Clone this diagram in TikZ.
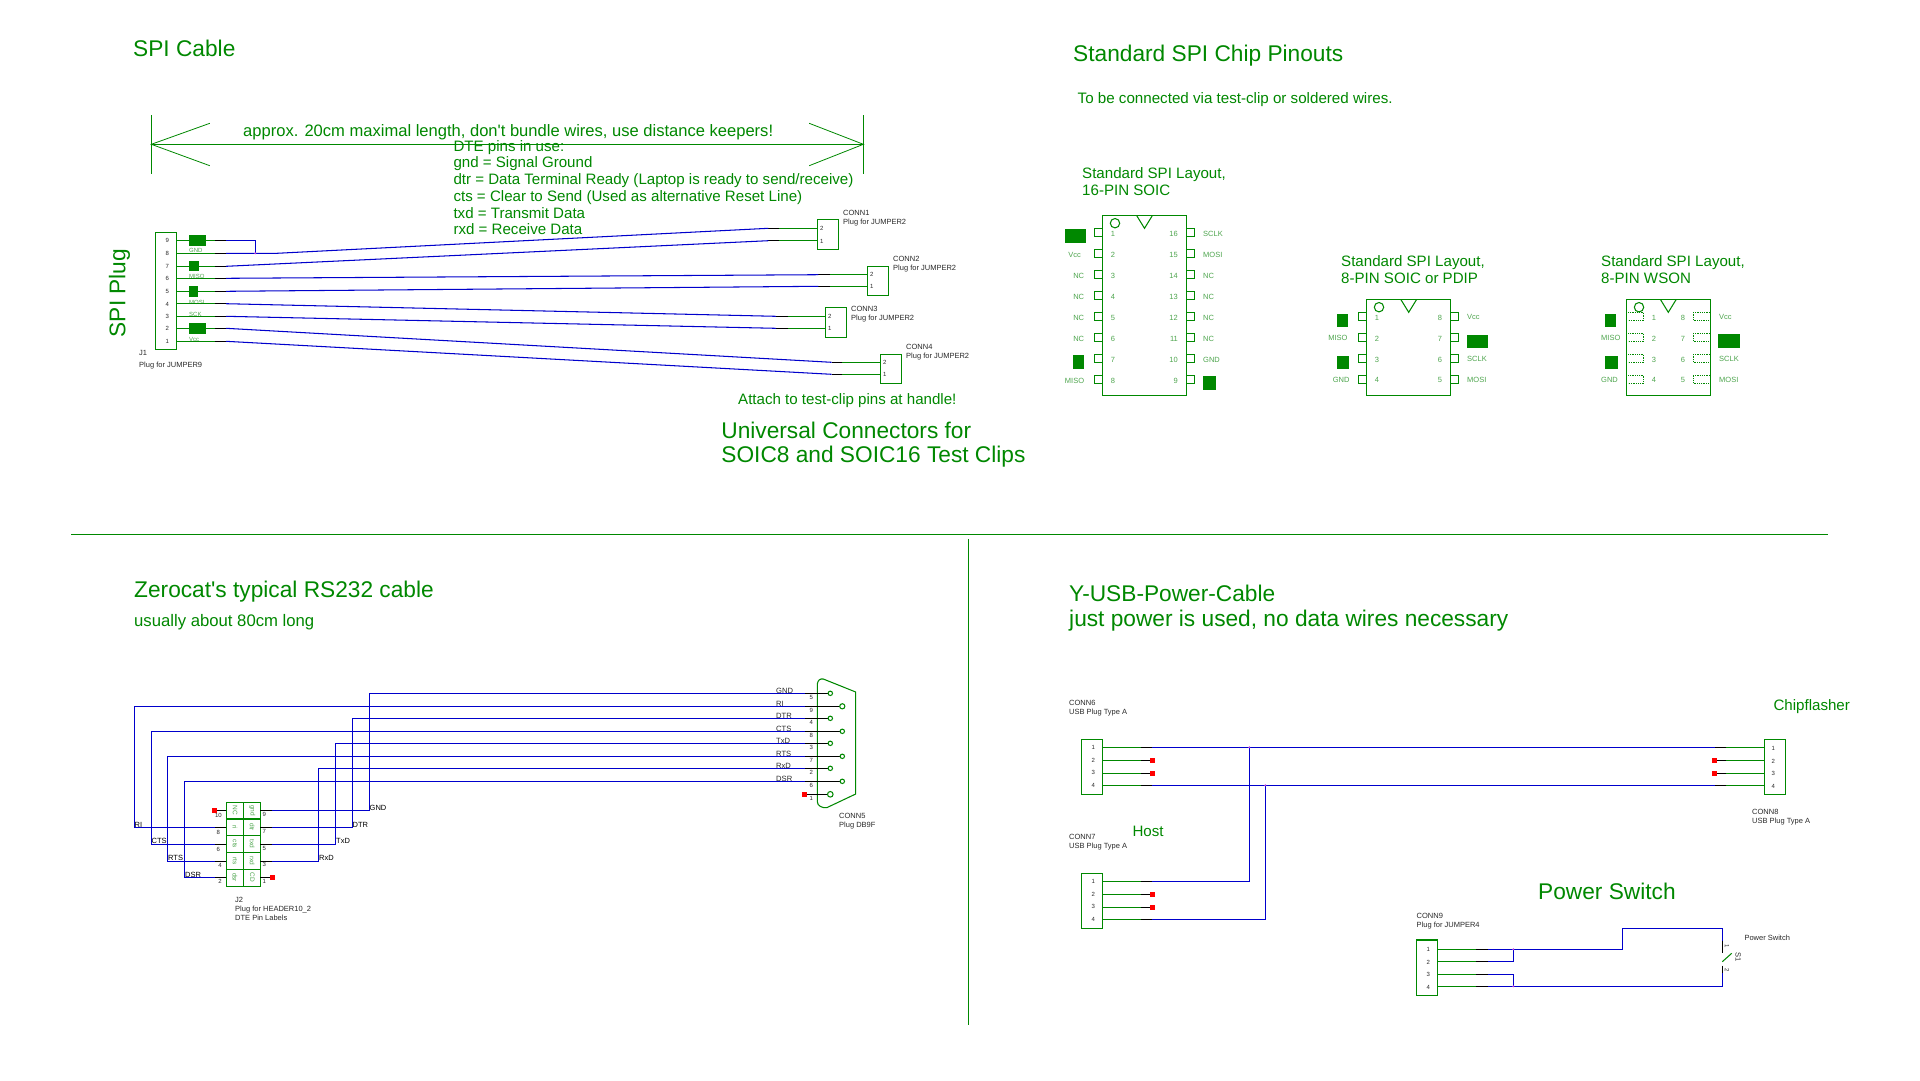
\documentclass[tikz,border=0pt]{standalone}
\usepackage{fontspec}
\setmainfont{Liberation Sans}
\newfontfamily\plainf{Liberation Sans}
\definecolor{gn}{HTML}{008800}
\definecolor{lgn}{HTML}{4FA64F}
\definecolor{bl}{HTML}{0000CC}
\definecolor{dk}{HTML}{2A2A2A}
\definecolor{jn}{HTML}{C040E0}
\definecolor{rd}{HTML}{FF0000}
\tikzset{
 gwire/.style={draw=gn,line width=1.05pt},
 bwire/.style={draw=bl,line width=1.05pt},
 kwire/.style={draw=black,line width=1.05pt},
 thin green/.style={draw=gn,line width=.8pt},
 dots/.style={draw=gn,line width=.8pt,dash pattern=on .9pt off .9pt},
}
\newcounter{nn}
\newcommand\TL[5]{\stepcounter{nn}\node[anchor=base west,inner sep=0pt,text=#4,font=\fontsize{#3}{#3}\selectfont,yshift=-#3*0.36pt] (t\thenn) at (#1,#2) {#5};}
\newcommand\TC[5]{\stepcounter{nn}\node[anchor=base,inner sep=0pt,text=#4,font=\fontsize{#3}{#3}\selectfont,yshift=-#3*0.36pt] (t\thenn) at (#1,#2) {#5};}
\newcommand\TR[5]{\stepcounter{nn}\node[anchor=base east,inner sep=0pt,text=#4,font=\fontsize{#3}{#3}\selectfont,yshift=-#3*0.36pt] (t\thenn) at (#1,#2) {#5};}
\newcommand\TRot[6]{\stepcounter{nn}\node[anchor=center,inner sep=0pt,text=#4,rotate=#6,font=\fontsize{#3}{#3}\selectfont] (t\thenn) at (#1,#2) {#5};}
\newcommand\Pin[5]{\coordinate (#1b) at (#2,#5);\coordinate (#1g) at (#3,#5);\coordinate (#1) at (#4,#5);\draw[gwire] (#1b)--(#1g);\draw[kwire] (#1g)--(#1);}
\newcommand\Red[2]{\fill[rd] (#1-2.5,#2-2.5) rectangle (#1+2.5,#2+2.5);}
\newcommand\Cov[4]{\fill[gn] (#1,#2) rectangle (#3,#4);}
\newcommand\Jn[1]{\fill[jn] (#1) circle (1.1);}
\newcommand\Chiprect[6]{\draw[gwire] (#1,#3) rectangle (#2,#4);\draw[gwire] (#5,#3+7.9) circle (4.7);\draw[gwire] (#6-8,#3) -- (#6,#3+13) -- (#6+8,#3);}
\newcommand\LP[2]{\draw[gwire] (#1,#2-4.1) rectangle (#1+8,#2+4.1);}
\begin{document}
\begin{tikzpicture}[x=1pt,y=-1pt]
\useasboundingbox (0,0) rectangle (1920,1080);
\fill[white] (0,0) rectangle (1920,1080);

% ---------- separators
\draw[gwire] (71,534.3) -- (1828,534.3);
\draw[gwire] (968.6,538.8) -- (968.6,1025);

% ---------- SPI cable: text
\TL{133}{48}{22.7}{gn}{SPI Cable}
\TRot{119.5}{293}{22.7}{gn}{SPI Plug}{90}
\draw[thin green] (151.3,115) -- (151.3,174);
\draw[thin green] (863.4,115) -- (863.4,174);
\draw[thin green] (151.3,144.3) -- (863.4,144.3);
\draw[thin green] (209.8,123.3) -- (151.3,144.3) -- (209.8,165.7);
\draw[thin green] (809.2,123.3) -- (863.4,144.3) -- (809.2,165.7);
\TL{243}{131}{16.55}{gn}{\plainf approx. 20cm maximal length, don't bundle wires, use distance keepers!}
\TL{453.3}{145.7}{15.1}{gn}{DTE pins in use:}
\TL{453.3}{162.3}{15.1}{gn}{gnd = Signal Ground}
\TL{453.3}{179}{15.1}{gn}{dtr = Data Terminal Ready (Laptop is ready to send/receive)}
\TL{453.3}{195.7}{15.1}{gn}{cts = Clear to Send (Used as alternative Reset Line)}
\TL{453.3}{213}{15.1}{gn}{txd = Transmit Data}
\TL{453.3}{229}{15.1}{gn}{rxd = Receive Data}

% J1
\draw[gwire] (155.3,232.3) rectangle (176.7,349.3);
\TL{189}{250.7}{6}{lgn}{GND}
\TL{189}{276.7}{6}{lgn}{MISO}
\TL{189}{302}{6}{lgn}{MOSI}
\TL{189}{314}{6}{lgn}{SCK}
\TL{189}{339}{6}{lgn}{Vcc}
\foreach \n/\y in {9/240.3,8/253.3,7/266.3,6/278.3,5/291.3,4/303.7,3/316.3,2/328.3,1/341.3}{
  \Pin{J\n}{176.7}{215}{226}{\y}
  \TC{167.3}{\y+.5}{6}{dk}{\n}
}
\Cov{189}{235}{205.7}{246}
\Cov{189}{260.7}{199}{271.3}
\Cov{189}{285.7}{197.7}{296.7}
\Cov{189}{323.3}{206}{334}
\TL{139}{352.3}{7.5}{dk}{J1}
\TL{139}{364.3}{7.5}{dk}{Plug for JUMPER9}

% CONN1-4
\newcommand\Jmp[9]{% name, boxL, boxR, boxT, boxB, y2, y1, xg, xk
  \draw[gwire] (#2,#4) rectangle (#3,#5);
  \Pin{#1p2}{#2}{#8}{#9}{#6}
  \Pin{#1p1}{#2}{#8}{#9}{#7}
  \TL{#2+2.5}{#6}{6}{dk}{2}
  \TL{#2+2.5}{#7+.5}{6}{dk}{1}
}
\Jmp{CA}{817.3}{838.3}{219.3}{249.7}{228.3}{240.7}{779}{768.3}
\Jmp{CB}{867.3}{888.3}{266.3}{295.3}{274.7}{286.3}{830}{818.3}
\Jmp{CC}{825.3}{846.3}{307.3}{337.3}{316.3}{328.3}{788}{776}
\Jmp{CD}{880.3}{901.7}{354.3}{383.3}{362.3}{374.3}{842}{831.7}
\TL{843}{213}{7.5}{dk}{CONN1}
\TL{843}{221.3}{7.5}{dk}{Plug for JUMPER2}
\TL{893}{259}{7.5}{dk}{CONN2}
\TL{893}{267.3}{7.5}{dk}{Plug for JUMPER2}
\TL{851}{309}{7.5}{dk}{CONN3}
\TL{851}{317.3}{7.5}{dk}{Plug for JUMPER2}
\TL{906}{347}{7.5}{dk}{CONN4}
\TL{906}{355.3}{7.5}{dk}{Plug for JUMPER2}
\coordinate (J9c) at (255.3,240.3);
\coordinate (J8c) at (255.3,253.3);
\coordinate (J8d) at (276.7,253.3);
\draw[bwire] (J9) -- (J9c) -- (J8c);
\draw[bwire] (J8) -- (J8d) -- (CAp2);
\draw[bwire] (J7) -- (CAp1);
\draw[bwire] (J6) -- (CBp2);
\draw[bwire] (J5) -- (CBp1);
\draw[bwire] (J4) -- (CCp2);
\draw[bwire] (J3) -- (CCp1);
\draw[bwire] (J2) -- (CDp2);
\draw[bwire] (J1) -- (CDp1);
\Jn{J8c}
\TL{738}{399}{15.1}{gn}{Attach to test-clip pins at handle!}
\TL{721.2}{430}{22.7}{gn}{Universal Connectors for}
\TL{721.2}{454.7}{22.7}{gn}{SOIC8 and SOIC16 Test Clips}

% ---------- Chip pinouts
\TL{1073}{53}{22.7}{gn}{Standard SPI Chip Pinouts}
\TL{1077.5}{98}{15.15}{gn}{To be connected via test-clip or soldered wires.}

\TL{1082}{172.7}{15.1}{gn}{Standard SPI Layout,}
\TL{1082}{189.7}{15.1}{gn}{16-PIN SOIC}
\Chiprect{1102.3}{1186.7}{215.3}{395.3}{1115}{1144.5}
\foreach \a/\b/\y in {1/16/232.3,2/15/253.5,3/14/274.5,4/13/295.5,5/12/316.5,6/11/337.5,7/10/358.5,8/9/379.5}{
  \LP{1094.3}{\y}
  \LP{1186.7}{\y}
  \TC{1113}{\y+1.5}{7.5}{lgn}{\a}
  \TR{1178}{\y+1.5}{7.5}{lgn}{\b}
}
\TC{1074.5}{255}{7.5}{lgn}{Vcc}
\foreach \y in {276,297,318,339}{\TR{1084.3}{\y}{7.5}{lgn}{NC}}
\TR{1084.3}{381}{7.5}{lgn}{MISO}
\TL{1203}{234}{7.5}{lgn}{SCLK}
\TL{1203}{255}{7.5}{lgn}{MOSI}
\foreach \y in {276,297,318,339}{\TL{1203}{\y}{7.5}{lgn}{NC}}
\TL{1203}{360}{7.5}{lgn}{GND}
\Cov{1064.7}{229.3}{1086}{243}
\Cov{1073}{355.3}{1084}{368.7}
\Cov{1203}{376.3}{1215.7}{390}

\TL{1341}{260.7}{15.1}{gn}{Standard SPI Layout,}
\TL{1341}{277.7}{15.1}{gn}{8-PIN SOIC or PDIP}
\Chiprect{1366.3}{1450.3}{299.3}{395.3}{1379}{1408.7}
\foreach \a/\b/\y in {1/8/316.3,2/7/337.3,3/6/358.3,4/5/379.2}{
  \LP{1358.3}{\y}
  \LP{1450.3}{\y}
  \TC{1377}{\y+1}{7.5}{lgn}{\a}
  \TC{1440}{\y+1}{7.5}{lgn}{\b}
}
\TR{1347.7}{338}{7.5}{lgn}{MISO}
\TR{1349.7}{380}{7.5}{lgn}{GND}
\TL{1467}{317}{7.5}{lgn}{Vcc}
\TL{1467}{359}{7.5}{lgn}{SCLK}
\TL{1467}{380}{7.5}{lgn}{MOSI}
\Cov{1337.3}{314}{1347.7}{326.7}
\Cov{1337.3}{355.7}{1349.3}{368.7}
\Cov{1467}{334.7}{1488}{348}

\TL{1601}{260.7}{15.1}{gn}{Standard SPI Layout,}
\TL{1601}{277.7}{15.1}{gn}{8-PIN WSON}
\Chiprect{1626.3}{1710.7}{299.3}{395.3}{1639}{1668.3}
\foreach \a/\b/\y in {1/8/316.3,2/7/337.3,3/6/358.3,4/5/379.2}{
  \draw[dots] (1628,\y-4.1) -- (1643.7,\y-4.1) -- (1643.7,\y+4.1) -- (1628,\y+4.1);
  \draw[dots] (1710,\y-4.1) -- (1693.3,\y-4.1) -- (1693.3,\y+4.1) -- (1710,\y+4.1);
  \TC{1654}{\y+1}{7.5}{lgn}{\a}
  \TC{1683}{\y+1}{7.5}{lgn}{\b}
}
\TL{1601}{338}{7.5}{lgn}{MISO}
\TL{1601}{380}{7.5}{lgn}{GND}
\TL{1719}{317}{7.5}{lgn}{Vcc}
\TL{1719}{359}{7.5}{lgn}{SCLK}
\TL{1719}{380}{7.5}{lgn}{MOSI}
\Cov{1605.3}{313.7}{1616}{327}
\Cov{1605.3}{355.7}{1617.7}{368.7}
\Cov{1718.3}{334.3}{1739.7}{348}

% ---------- RS232
\TL{134}{589}{22.7}{gn}{\plainf Zerocat's typical RS232 cable}
\TL{134}{620.7}{16.7}{gn}{usually about 80cm long}

% DB9 shell
\draw[gwire] (817.3,684) .. controls (818,680) and (820,678.5) .. (823.3,679) -- (855.7,692) -- (855.7,794) -- (826.7,807.7) .. controls (822,808) and (817.5,806) .. (817.3,801.7) -- cycle;
\foreach \nm/\num/\x/\y/\r in {a/5/830.3/693.3/2.2,b/9/842.3/706.3/2.6,c/4/830.3/718.3/2.2,d/8/842.3/731.3/2.2,e/3/830.3/743.3/2.2,f/7/842.3/756.3/2.2,g/2/830.3/768.3/2.2,h/6/842.3/781.3/2.2,i/1/830.3/794.3/2.8}{
  \coordinate (D\nm) at (805,\y);
  \coordinate (E\nm) at (\x,\y);
  \draw[kwire] (D\nm) -- (E\nm);
  \draw[gwire,fill=white] (E\nm) circle (\r);
  \TC{811.3}{\y+4.2}{6}{dk}{\num}
}
\Red{804.3}{794.3}
\foreach \t/\y in {GND/690.5,RI/703.5,DTR/716,CTS/728.5,TxD/741,RTS/753.5,RxD/766,DSR/778.5}{\TL{776}{\y}{7.6}{dk}{\t}}
\TL{839}{816}{7.5}{dk}{CONN5}
\TL{839}{825}{7.5}{dk}{Plug DB9F}

% J2 header
\draw[gwire] (226.3,802.3) rectangle (260.3,886.3);
\draw[gwire] (243.3,802.3) -- (243.3,886.3);
\foreach \y in {819,835.3,852.3,869.3}{\draw[gwire] (226.3,\y) -- (260.3,\y);}
\foreach \l/\r/\y in {NC/gnd/810.5,ri/dtr/827.3,cts/txd/844,rts/rxd/861,dsr/CD/877.5}{
  \TRot{235}{\y}{6.5}{lgn}{\l}{-90}
  \TRot{252.3}{\y}{6.5}{lgn}{\r}{-90}
}
\foreach \n/\y in {a/810.3,b/827.3,c/844.3,d/861.3,e/877.3}{
  \coordinate (HL\n i) at (226.3,\y);
  \coordinate (HL\n) at (215,\y);
  \coordinate (HR\n i) at (260.3,\y);
  \coordinate (HR\n) at (271.7,\y);
  \draw[kwire] (HL\n i) -- (HL\n);
  \draw[kwire] (HR\n i) -- (HR\n);
}
\Red{214.3}{810.3}
\Red{272.3}{877.3}
\TR{222}{815}{6}{dk}{10}
\TC{218.3}{832}{6}{dk}{8}
\TC{218.3}{849}{6}{dk}{6}
\TC{220}{865}{6}{dk}{4}
\TC{220}{881.7}{6}{dk}{2}
\TC{264.3}{814.7}{6}{dk}{9}
\TC{264.3}{831.7}{6}{dk}{7}
\TC{264.3}{848.7}{6}{dk}{5}
\TC{264.3}{864.7}{6}{dk}{3}
\TC{264.3}{881.7}{6}{dk}{1}
\TL{235}{900}{7.5}{dk}{J2}
\TL{235}{908.5}{7.5}{dk}{Plug for HEADER10\_2}
\TL{235}{917.3}{7.5}{dk}{DTE Pin Labels}
\draw[bwire] (HLb) -| (134.3,706.3) -- (Db);
\draw[bwire] (HLc) -| (151.3,731.3) -- (Dd);
\draw[bwire] (HLd) -| (167.7,756.3) -- (Df);
\draw[bwire] (HLe) -| (184.3,781.3) -- (Dh);
\draw[bwire] (HRa) -| (369.3,693.3) -- (Da);
\draw[bwire] (HRb) -| (352.3,718.3) -- (Dc);
\draw[bwire] (HRc) -| (335.7,743.3) -- (De);
\draw[bwire] (HRd) -| (318.3,768.3) -- (Dg);
\TL{134.5}{825}{7.5}{black}{RI}
\TL{151.5}{841}{7.5}{black}{CTS}
\TL{168}{858}{7.5}{black}{RTS}
\TL{185}{875}{7.5}{black}{DSR}
\TL{369.5}{808}{7.5}{black}{GND}
\TL{352.5}{825}{7.5}{black}{DTR}
\TL{336}{841}{7.5}{black}{TxD}
\TL{319}{858}{7.5}{black}{RxD}

% ---------- USB
\TL{1069}{593.2}{22.7}{gn}{Y-USB-Power-Cable}
\TL{1069}{618.4}{22.7}{gn}{just power is used, no data wires necessary}
\TL{1773.3}{705}{15.1}{gn}{Chipflasher}
\TL{1132.3}{831}{15.1}{gn}{Host}
\TL{1538}{891.4}{22.7}{gn}{Power Switch}

\newcommand\UsbL[3]{% name, box top, label
  \draw[gwire] (1081.3,#2) rectangle (1102.3,#2+55);
  \Pin{#1a}{1102.3}{1141}{1151.7}{#2+8}
  \Pin{#1b}{1102.3}{1141}{1151.7}{#2+21}
  \Pin{#1c}{1102.3}{1141}{1151.7}{#2+34}
  \Pin{#1d}{1102.3}{1141}{1151.7}{#2+46}
  \TC{1093.3}{#2+8.3}{6}{dk}{1}
  \TC{1093.3}{#2+21.3}{6}{dk}{2}
  \TC{1093.3}{#2+33.3}{6}{dk}{3}
  \TC{1093.3}{#2+46.3}{6}{dk}{4}
  \Red{1152.7}{#2+21}
  \Red{1152.7}{#2+34}
}
\UsbL{UA}{739.3}{}
\UsbL{UB}{873.3}{}
\TL{1069}{703}{7.5}{dk}{CONN6}
\TL{1069}{711.3}{7.5}{dk}{USB Plug Type A}
\TL{1069}{836.7}{7.5}{dk}{CONN7}
\TL{1069}{846}{7.5}{dk}{USB Plug Type A}
% CONN8
\draw[gwire] (1764.3,739.3) rectangle (1785.3,794.3);
\Pin{UCa}{1764.3}{1726}{1715}{747.3}
\Pin{UCb}{1764.3}{1726}{1715}{760.3}
\Pin{UCc}{1764.3}{1726}{1715}{773.3}
\Pin{UCd}{1764.3}{1726}{1715}{785.3}
\TC{1773.3}{748}{6}{dk}{1}
\TC{1773.3}{761}{6}{dk}{2}
\TC{1773.3}{773}{6}{dk}{3}
\TC{1773.3}{786}{6}{dk}{4}
\Red{1714.3}{760.3}
\Red{1714.3}{773.3}
\TL{1752}{812}{7.5}{dk}{CONN8}
\TL{1752}{820.3}{7.5}{dk}{USB Plug Type A}
\coordinate (JA) at (1249.3,747.3);
\coordinate (JB) at (1265.3,785.3);
\draw[bwire] (UAa) -- (UCa);
\draw[bwire] (UAd) -- (UCd);
\draw[bwire] (UBa) -| (JA);
\draw[bwire] (UBd) -| (JB);
\Jn{JA}
\Jn{JB}

% CONN9
\draw[gwire] (1416.3,940) rectangle (1437.3,995.7);
\Pin{Pa}{1437.3}{1476}{1488}{949.3}
\Pin{Pb}{1437.3}{1476}{1488}{961.3}
\Pin{Pc}{1437.3}{1476}{1488}{974.3}
\Pin{Pd}{1437.3}{1476}{1488}{986.3}
\TC{1428.3}{949}{6}{dk}{1}
\TC{1428.3}{962}{6}{dk}{2}
\TC{1428.3}{974}{6}{dk}{3}
\TC{1428.3}{987}{6}{dk}{4}
\TL{1416.5}{916}{7.5}{dk}{CONN9}
\TL{1416.5}{924.7}{7.5}{dk}{Plug for JUMPER4}
\coordinate (JP) at (1513.3,949.3);
\coordinate (JQ) at (1513.3,986.3);
\coordinate (Sa) at (1722.3,940.7);
\coordinate (Sb) at (1722.3,953.3);
\coordinate (Sc) at (1722.3,961.7);
\coordinate (Sd) at (1731.7,953.3);
\coordinate (Se) at (1722.3,965.7);
\coordinate (Sf) at (1722.3,973.3);
\draw[bwire] (Pa) -- (1622.3,949.3) -- (1622.3,928.3) -- (1722.3,928.3) -- (Sa);
\draw[bwire] (Pb) -| (JP);
\draw[bwire] (Pc) -| (JQ);
\draw[bwire] (Pd) -- (1722.3,986.3) -- (Sf);
\draw[kwire] (Sa) -- (Sb);
\draw[gwire] (Sc) -- (Sd);
\draw[kwire] (Se) -- (Sf);
\Jn{JP}
\Jn{JQ}
\TRot{1727}{946}{6}{dk}{1}{-90}
\TRot{1727}{969.7}{6}{dk}{2}{-90}
\TRot{1738.3}{957.3}{7.5}{dk}{S1}{-90}
\TL{1744.3}{938}{7.5}{dk}{Power Switch}
\end{tikzpicture}
\end{document}
